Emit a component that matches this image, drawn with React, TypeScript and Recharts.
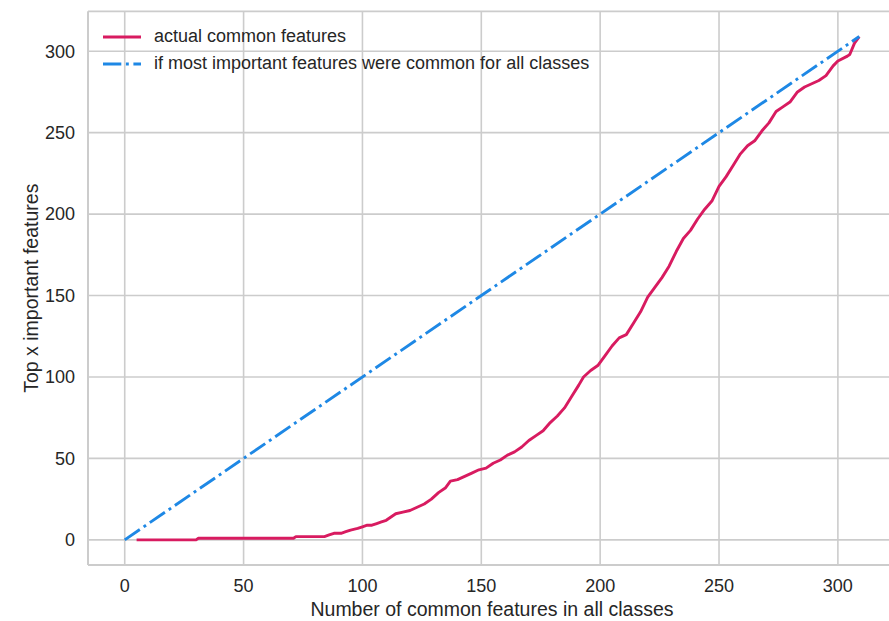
import React from "react";
import { LineChart, Line, XAxis, YAxis, CartesianGrid, Legend } from "recharts";

// Red series: actual common features (x = number of common features, y = top x important features)
const actualX = [5, 30, 31, 71, 72, 84, 86, 88, 91, 93, 95, 98, 100, 102, 104, 106, 108, 110, 112, 114, 117, 120, 123, 126, 129, 132, 135, 137, 140, 143, 146, 149, 152, 155, 158, 161, 164, 167, 170, 173, 176, 179, 182, 185, 188, 191, 193, 196, 199, 202, 205, 208, 211, 214, 217, 220, 223, 226, 229, 232, 235, 238, 241, 244, 247, 250, 253, 256, 259, 262, 265, 268, 271, 274, 277, 280, 283, 286, 289, 292, 295, 298, 300, 304, 305, 307, 309];
const actualY = [0, 0, 1, 1, 2, 2, 3, 4, 4, 5, 6, 7, 8, 9, 9, 10, 11, 12, 14, 16, 17, 18, 20, 22, 25, 29, 32, 36, 37, 39, 41, 43, 44, 47, 49, 52, 54, 57, 61, 64, 67, 72, 76, 81, 88, 95, 100, 104, 107, 113, 119, 124, 126, 133, 140, 149, 155, 161, 168, 177, 185, 190, 197, 203, 208, 217, 223, 230, 237, 242, 245, 251, 256, 263, 266, 269, 275, 278, 280, 282, 285, 291, 294, 297, 298, 305, 309];

// Blue series: reference diagonal
const diagonalX = [0, 309];
const diagonalY = [0, 309];

const xTicks = [0, 50, 100, 150, 200, 250, 300];
const yTicks = [0, 50, 100, 150, 200, 250, 300];

const seriesNames = ["actual common features", "if most important features were common for all classes"];

const actualData = actualX.map((x, i) => ({ x, y: actualY[i] }));
const diagonalData = diagonalX.map((x, i) => ({ x, y: diagonalY[i] }));

const RED = "#d81b60";
const BLUE = "#1e88e5";
const GRID = "#cccccc";
const TEXT = "#262626";
const FONT = "'Liberation Sans', Arial, sans-serif";
const LW = 2.9;
const DASH = "18.3 4.6 2.9 4.6";
const DOMAIN: [number, number] = [-15.45, 324.45];

const LegendContent = () => (
  <div style={{ fontFamily: FONT, fontSize: 18, color: TEXT }}>
    {seriesNames.map((name, i) => (
      <div key={name} style={{ display: "flex", alignItems: "center", height: 27.5, lineHeight: "27.5px", whiteSpace: "nowrap" }}>
        <svg width={38} height={8} style={{ marginRight: 13, display: "block" }}>
          <line
            x1={0}
            x2={38}
            y1={4}
            y2={4}
            stroke={i === 0 ? RED : BLUE}
            strokeWidth={LW}
            strokeDasharray={i === 0 ? undefined : DASH}
          />
        </svg>
        <span>{name}</span>
      </div>
    ))}
  </div>
);

export default function App() {
  return (
    <div style={{ position: "absolute", left: 0, top: 0, width: 889, height: 621, overflow: "hidden", background: "#fff" }}>
      <LineChart width={900} height={621} margin={{ top: 11.4, right: 4, left: 0, bottom: 0 }}>
        <CartesianGrid stroke={GRID} strokeWidth={1.6} />
        <XAxis
          xAxisId={0}
          type="number"
          dataKey="x"
          domain={DOMAIN}
          allowDataOverflow
          ticks={xTicks}
          interval={0}
          height={56}
          tickLine={false}
          tickSize={0}
          tickMargin={14}
          axisLine={{ stroke: GRID, strokeWidth: 2 }}
          tick={{ fill: TEXT, fontSize: 18, fontFamily: FONT }}
          label={{ value: "Number of common features in all classes", position: "insideBottom", offset: 5, fill: TEXT, fontSize: 19.5, fontFamily: FONT }}
        />
        <XAxis
          xAxisId="top"
          orientation="top"
          type="number"
          dataKey="x"
          domain={DOMAIN}
          allowDataOverflow
          height={0}
          tick={false}
          tickLine={false}
          axisLine={{ stroke: GRID, strokeWidth: 2 }}
        />
        <YAxis
          type="number"
          dataKey="y"
          domain={DOMAIN}
          allowDataOverflow
          ticks={yTicks}
          interval={0}
          width={88}
          tickLine={false}
          tickSize={0}
          tickMargin={13}
          axisLine={{ stroke: GRID, strokeWidth: 2 }}
          tick={{ fill: TEXT, fontSize: 18, fontFamily: FONT }}
          label={{ value: "Top x important features", angle: -90, position: "insideLeft", offset: 31.5, fill: TEXT, fontSize: 19.5, fontFamily: FONT, style: { textAnchor: "middle" } }}
        />
        <Legend
          layout="vertical"
          align="center"
          verticalAlign="middle"
          wrapperStyle={{ left: 103, top: 22.75, width: 600, height: 56 }}
          content={<LegendContent />}
        />
        <Line
          data={actualData}
          dataKey="y"
          name={seriesNames[0]}
          type="linear"
          stroke={RED}
          strokeWidth={LW}
          strokeLinejoin="round"
          dot={false}
          activeDot={false}
          isAnimationActive={false}
        />
        <Line
          data={diagonalData}
          dataKey="y"
          name={seriesNames[1]}
          type="linear"
          stroke={BLUE}
          strokeWidth={LW}
          strokeDasharray={DASH}
          dot={false}
          activeDot={false}
          isAnimationActive={false}
        />
      </LineChart>
    </div>
  );
}
